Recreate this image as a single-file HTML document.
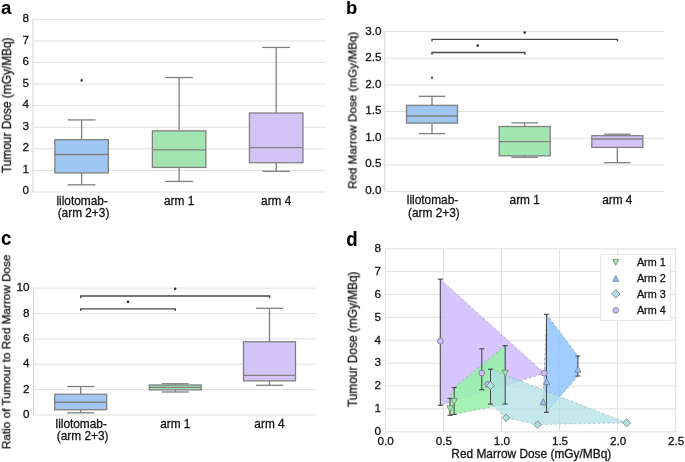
<!DOCTYPE html>
<html><head><meta charset="utf-8"><style>
html,body{margin:0;padding:0;background:#fff;}
text{stroke:#111;stroke-width:0.28px;paint-order:stroke;}
text[font-weight=bold]{stroke:#000;stroke-width:0.1px;}
svg{display:block;font-family:"Liberation Sans", sans-serif;-webkit-font-smoothing:antialiased;filter:blur(0.3px);}
text{will-change:transform;}
</style></head><body>
<svg width="685" height="462" viewBox="0 0 685 462">
<rect width="685" height="462" fill="#fff"/>
<line x1="33.00" y1="192.00" x2="325.50" y2="192.00" stroke="#e0e0e0" stroke-width="1" />
<text x="29.00" y="194.00" text-anchor="end" font-size="11.7" font-weight="normal" fill="#111" >0</text>
<line x1="33.00" y1="170.42" x2="325.50" y2="170.42" stroke="#e0e0e0" stroke-width="1" />
<text x="29.00" y="172.50" text-anchor="end" font-size="11.7" font-weight="normal" fill="#111" >1</text>
<line x1="33.00" y1="148.84" x2="325.50" y2="148.84" stroke="#e0e0e0" stroke-width="1" />
<text x="29.00" y="151.00" text-anchor="end" font-size="11.7" font-weight="normal" fill="#111" >2</text>
<line x1="33.00" y1="127.26" x2="325.50" y2="127.26" stroke="#e0e0e0" stroke-width="1" />
<text x="29.00" y="129.50" text-anchor="end" font-size="11.7" font-weight="normal" fill="#111" >3</text>
<line x1="33.00" y1="105.68" x2="325.50" y2="105.68" stroke="#e0e0e0" stroke-width="1" />
<text x="29.00" y="108.00" text-anchor="end" font-size="11.7" font-weight="normal" fill="#111" >4</text>
<line x1="33.00" y1="84.10" x2="325.50" y2="84.10" stroke="#e0e0e0" stroke-width="1" />
<text x="29.00" y="86.50" text-anchor="end" font-size="11.7" font-weight="normal" fill="#111" >5</text>
<line x1="33.00" y1="62.52" x2="325.50" y2="62.52" stroke="#e0e0e0" stroke-width="1" />
<text x="29.00" y="65.00" text-anchor="end" font-size="11.7" font-weight="normal" fill="#111" >6</text>
<line x1="33.00" y1="40.94" x2="325.50" y2="40.94" stroke="#e0e0e0" stroke-width="1" />
<text x="29.00" y="43.50" text-anchor="end" font-size="11.7" font-weight="normal" fill="#111" >7</text>
<line x1="33.00" y1="19.36" x2="325.50" y2="19.36" stroke="#e0e0e0" stroke-width="1" />
<text x="29.00" y="22.00" text-anchor="end" font-size="11.7" font-weight="normal" fill="#111" >8</text>
<line x1="33.00" y1="19.36" x2="33.00" y2="192.00" stroke="#d4d4d4" stroke-width="1" />
<line x1="81.60" y1="139.69" x2="81.60" y2="119.91" stroke="#808080" stroke-width="1.3" />
<line x1="81.60" y1="172.90" x2="81.60" y2="184.84" stroke="#808080" stroke-width="1.3" />
<line x1="67.69" y1="119.91" x2="95.51" y2="119.91" stroke="#808080" stroke-width="1.3" />
<line x1="67.69" y1="184.84" x2="95.51" y2="184.84" stroke="#808080" stroke-width="1.3" />
<rect x="54.85" y="139.69" width="53.50" height="33.22" fill="#a0c7f1" stroke="#808080" stroke-width="1.3"/>
<line x1="54.85" y1="154.52" x2="108.35" y2="154.52" stroke="#808080" stroke-width="1.3" />
<line x1="179.10" y1="130.87" x2="179.10" y2="77.55" stroke="#808080" stroke-width="1.3" />
<line x1="179.10" y1="167.42" x2="179.10" y2="181.40" stroke="#808080" stroke-width="1.3" />
<line x1="165.19" y1="77.55" x2="193.01" y2="77.55" stroke="#808080" stroke-width="1.3" />
<line x1="165.19" y1="181.40" x2="193.01" y2="181.40" stroke="#808080" stroke-width="1.3" />
<rect x="152.35" y="130.87" width="53.50" height="36.55" fill="#a2e5b1" stroke="#808080" stroke-width="1.3"/>
<line x1="152.35" y1="149.79" x2="205.85" y2="149.79" stroke="#808080" stroke-width="1.3" />
<line x1="276.20" y1="113.03" x2="276.20" y2="47.45" stroke="#808080" stroke-width="1.3" />
<line x1="276.20" y1="162.69" x2="276.20" y2="171.29" stroke="#808080" stroke-width="1.3" />
<line x1="262.29" y1="47.45" x2="290.11" y2="47.45" stroke="#808080" stroke-width="1.3" />
<line x1="262.29" y1="171.29" x2="290.11" y2="171.29" stroke="#808080" stroke-width="1.3" />
<rect x="249.45" y="113.03" width="53.50" height="49.66" fill="#d3c4f7" stroke="#808080" stroke-width="1.3"/>
<line x1="249.45" y1="147.64" x2="302.95" y2="147.64" stroke="#808080" stroke-width="1.3" />
<path d="M81.60,78.34 l1.5,2 l-1.5,2 l-1.5,-2 z" fill="#444"/>
<text x="82.10" y="204.80" text-anchor="middle" font-size="11.85" font-weight="normal" fill="#111" >lilotomab-</text>
<text x="83.50" y="216.60" text-anchor="middle" font-size="11.85" font-weight="normal" fill="#111" >(arm 2+3)</text>
<text x="179.10" y="204.80" text-anchor="middle" font-size="11.85" font-weight="normal" fill="#111" >arm 1</text>
<text x="276.20" y="204.80" text-anchor="middle" font-size="11.85" font-weight="normal" fill="#111" >arm 4</text>
<text transform="translate(10.90,105.30) rotate(-90)" text-anchor="middle" font-size="11.9" fill="#111">Tumour Dose (mGy/MBq)</text>
<text transform="translate(0.90,14.40) scale(0.98,1)" font-size="19" font-weight="bold" fill="#000">a</text>
<line x1="385.20" y1="191.60" x2="664.00" y2="191.60" stroke="#e0e0e0" stroke-width="1" />
<text x="381.60" y="193.90" text-anchor="end" font-size="11.7" font-weight="normal" fill="#111" >0.0</text>
<line x1="385.20" y1="164.91" x2="664.00" y2="164.91" stroke="#e0e0e0" stroke-width="1" />
<text x="381.60" y="167.34" text-anchor="end" font-size="11.7" font-weight="normal" fill="#111" >0.5</text>
<line x1="385.20" y1="138.23" x2="664.00" y2="138.23" stroke="#e0e0e0" stroke-width="1" />
<text x="381.60" y="140.77" text-anchor="end" font-size="11.7" font-weight="normal" fill="#111" >1.0</text>
<line x1="385.20" y1="111.55" x2="664.00" y2="111.55" stroke="#e0e0e0" stroke-width="1" />
<text x="381.60" y="114.20" text-anchor="end" font-size="11.7" font-weight="normal" fill="#111" >1.5</text>
<line x1="385.20" y1="84.86" x2="664.00" y2="84.86" stroke="#e0e0e0" stroke-width="1" />
<text x="381.60" y="87.64" text-anchor="end" font-size="11.7" font-weight="normal" fill="#111" >2.0</text>
<line x1="385.20" y1="58.18" x2="664.00" y2="58.18" stroke="#e0e0e0" stroke-width="1" />
<text x="381.60" y="61.07" text-anchor="end" font-size="11.7" font-weight="normal" fill="#111" >2.5</text>
<line x1="385.20" y1="31.49" x2="664.00" y2="31.49" stroke="#e0e0e0" stroke-width="1" />
<text x="381.60" y="34.51" text-anchor="end" font-size="11.7" font-weight="normal" fill="#111" >3.0</text>
<line x1="384.80" y1="31.49" x2="384.80" y2="191.60" stroke="#d4d4d4" stroke-width="1" />
<line x1="432.00" y1="105.36" x2="432.00" y2="96.33" stroke="#808080" stroke-width="1.3" />
<line x1="432.00" y1="123.11" x2="432.00" y2="133.63" stroke="#808080" stroke-width="1.3" />
<line x1="418.74" y1="96.33" x2="445.26" y2="96.33" stroke="#808080" stroke-width="1.3" />
<line x1="418.74" y1="133.63" x2="445.26" y2="133.63" stroke="#808080" stroke-width="1.3" />
<rect x="406.50" y="105.36" width="51.00" height="17.75" fill="#a0c7f1" stroke="#808080" stroke-width="1.3"/>
<line x1="406.50" y1="115.99" x2="457.50" y2="115.99" stroke="#808080" stroke-width="1.3" />
<line x1="524.70" y1="126.51" x2="524.70" y2="122.89" stroke="#808080" stroke-width="1.3" />
<line x1="524.70" y1="155.83" x2="524.70" y2="157.32" stroke="#808080" stroke-width="1.3" />
<line x1="511.44" y1="122.89" x2="537.96" y2="122.89" stroke="#808080" stroke-width="1.3" />
<line x1="511.44" y1="157.32" x2="537.96" y2="157.32" stroke="#808080" stroke-width="1.3" />
<rect x="499.20" y="126.51" width="51.00" height="29.33" fill="#a2e5b1" stroke="#808080" stroke-width="1.3"/>
<line x1="499.20" y1="141.70" x2="550.20" y2="141.70" stroke="#808080" stroke-width="1.3" />
<line x1="617.30" y1="135.70" x2="617.30" y2="134.21" stroke="#808080" stroke-width="1.3" />
<line x1="617.30" y1="147.39" x2="617.30" y2="162.69" stroke="#808080" stroke-width="1.3" />
<line x1="604.04" y1="134.21" x2="630.56" y2="134.21" stroke="#808080" stroke-width="1.3" />
<line x1="604.04" y1="162.69" x2="630.56" y2="162.69" stroke="#808080" stroke-width="1.3" />
<rect x="591.80" y="135.70" width="51.00" height="11.69" fill="#d3c4f7" stroke="#808080" stroke-width="1.3"/>
<line x1="591.80" y1="138.99" x2="642.80" y2="138.99" stroke="#808080" stroke-width="1.3" />
<path d="M432.00,76.10 l1.1,1.7 l-1.1,1.7 l-1.1,-1.7 z" fill="#333"/>
<path d="M432.00,41.60 L432.00,39.40 L617.50,39.40 L617.50,41.60" fill="none" stroke="#484848" stroke-width="1.4"/>
<path d="M432.00,54.70 L432.00,52.50 L525.00,52.50 L525.00,54.70" fill="none" stroke="#484848" stroke-width="1.4"/>
<circle cx="524.70" cy="32.60" r="1.25" fill="#222"/>
<circle cx="477.70" cy="45.50" r="1.25" fill="#222"/>
<text x="432.50" y="204.20" text-anchor="middle" font-size="11.85" font-weight="normal" fill="#111" >lilotomab-</text>
<text x="433.90" y="216.80" text-anchor="middle" font-size="11.85" font-weight="normal" fill="#111" >(arm 2+3)</text>
<text x="524.70" y="204.20" text-anchor="middle" font-size="11.85" font-weight="normal" fill="#111" >arm 1</text>
<text x="617.30" y="204.20" text-anchor="middle" font-size="11.85" font-weight="normal" fill="#111" >arm 4</text>
<text transform="translate(356.40,110.40) rotate(-90)" text-anchor="middle" font-size="11.7" fill="#111">Red Marrow Dose (mGy/MBq)</text>
<text transform="translate(345.90,14.30) scale(0.97,1)" font-size="19" font-weight="bold" fill="#000">b</text>
<line x1="33.50" y1="415.00" x2="316.50" y2="415.00" stroke="#e0e0e0" stroke-width="1" />
<text x="29.40" y="417.90" text-anchor="end" font-size="11.7" font-weight="normal" fill="#111" >0</text>
<line x1="33.50" y1="389.62" x2="316.50" y2="389.62" stroke="#e0e0e0" stroke-width="1" />
<text x="29.40" y="392.58" text-anchor="end" font-size="11.7" font-weight="normal" fill="#111" >2</text>
<line x1="33.50" y1="364.24" x2="316.50" y2="364.24" stroke="#e0e0e0" stroke-width="1" />
<text x="29.40" y="367.26" text-anchor="end" font-size="11.7" font-weight="normal" fill="#111" >4</text>
<line x1="33.50" y1="338.86" x2="316.50" y2="338.86" stroke="#e0e0e0" stroke-width="1" />
<text x="29.40" y="341.94" text-anchor="end" font-size="11.7" font-weight="normal" fill="#111" >6</text>
<line x1="33.50" y1="313.48" x2="316.50" y2="313.48" stroke="#e0e0e0" stroke-width="1" />
<text x="29.40" y="316.62" text-anchor="end" font-size="11.7" font-weight="normal" fill="#111" >8</text>
<line x1="33.50" y1="288.10" x2="316.50" y2="288.10" stroke="#e0e0e0" stroke-width="1" />
<text x="29.40" y="291.30" text-anchor="end" font-size="11.7" font-weight="normal" fill="#111" >10</text>
<line x1="33.50" y1="288.10" x2="33.50" y2="415.00" stroke="#d4d4d4" stroke-width="1" />
<line x1="80.70" y1="394.26" x2="80.70" y2="386.54" stroke="#808080" stroke-width="1.3" />
<line x1="80.70" y1="409.71" x2="80.70" y2="412.87" stroke="#808080" stroke-width="1.3" />
<line x1="67.18" y1="386.54" x2="94.22" y2="386.54" stroke="#808080" stroke-width="1.3" />
<line x1="67.18" y1="412.87" x2="94.22" y2="412.87" stroke="#808080" stroke-width="1.3" />
<rect x="54.70" y="394.26" width="52.00" height="15.45" fill="#a0c7f1" stroke="#808080" stroke-width="1.3"/>
<line x1="54.70" y1="402.24" x2="106.70" y2="402.24" stroke="#808080" stroke-width="1.3" />
<line x1="175.30" y1="385.02" x2="175.30" y2="383.76" stroke="#808080" stroke-width="1.3" />
<line x1="175.30" y1="389.83" x2="175.30" y2="391.99" stroke="#808080" stroke-width="1.3" />
<line x1="161.78" y1="383.76" x2="188.82" y2="383.76" stroke="#808080" stroke-width="1.3" />
<line x1="161.78" y1="391.99" x2="188.82" y2="391.99" stroke="#808080" stroke-width="1.3" />
<rect x="149.30" y="385.02" width="52.00" height="4.81" fill="#a2e5b1" stroke="#808080" stroke-width="1.3"/>
<line x1="149.30" y1="387.30" x2="201.30" y2="387.30" stroke="#808080" stroke-width="1.3" />
<line x1="269.50" y1="341.73" x2="269.50" y2="308.30" stroke="#808080" stroke-width="1.3" />
<line x1="269.50" y1="380.84" x2="269.50" y2="385.28" stroke="#808080" stroke-width="1.3" />
<line x1="255.98" y1="308.30" x2="283.02" y2="308.30" stroke="#808080" stroke-width="1.3" />
<line x1="255.98" y1="385.28" x2="283.02" y2="385.28" stroke="#808080" stroke-width="1.3" />
<rect x="243.50" y="341.73" width="52.00" height="39.12" fill="#d3c4f7" stroke="#808080" stroke-width="1.3"/>
<line x1="243.50" y1="375.40" x2="295.50" y2="375.40" stroke="#808080" stroke-width="1.3" />
<path d="M80.80,298.20 L80.80,296.00 L269.60,296.00 L269.60,298.20" fill="none" stroke="#484848" stroke-width="1.4"/>
<path d="M80.80,311.10 L80.80,308.90 L175.20,308.90 L175.20,311.10" fill="none" stroke="#484848" stroke-width="1.4"/>
<circle cx="175.20" cy="288.70" r="1.25" fill="#222"/>
<circle cx="128.00" cy="301.80" r="1.25" fill="#222"/>
<text x="81.20" y="427.70" text-anchor="middle" font-size="11.85" font-weight="normal" fill="#111" >lilotomab-</text>
<text x="82.60" y="440.10" text-anchor="middle" font-size="11.85" font-weight="normal" fill="#111" >(arm 2+3)</text>
<text x="175.30" y="427.70" text-anchor="middle" font-size="11.85" font-weight="normal" fill="#111" >arm 1</text>
<text x="269.50" y="427.70" text-anchor="middle" font-size="11.85" font-weight="normal" fill="#111" >arm 4</text>
<text transform="translate(10.20,351.80) rotate(-90)" text-anchor="middle" font-size="11.75" fill="#111">Ratio of Tumour to Red Marrow Dose</text>
<text transform="translate(1.00,245.40) scale(0.93,1)" font-size="20" font-weight="bold" fill="#000">c</text>
<rect x="385.30" y="248.76" width="290.40" height="183.04" fill="#fff" stroke="#e0e0e0" stroke-width="1"/>
<line x1="443.38" y1="248.76" x2="443.38" y2="431.80" stroke="#e0e0e0" stroke-width="1" />
<line x1="501.46" y1="248.76" x2="501.46" y2="431.80" stroke="#e0e0e0" stroke-width="1" />
<line x1="559.54" y1="248.76" x2="559.54" y2="431.80" stroke="#e0e0e0" stroke-width="1" />
<line x1="617.62" y1="248.76" x2="617.62" y2="431.80" stroke="#e0e0e0" stroke-width="1" />
<line x1="385.30" y1="408.92" x2="675.70" y2="408.92" stroke="#e0e0e0" stroke-width="1" />
<line x1="385.30" y1="386.04" x2="675.70" y2="386.04" stroke="#e0e0e0" stroke-width="1" />
<line x1="385.30" y1="363.16" x2="675.70" y2="363.16" stroke="#e0e0e0" stroke-width="1" />
<line x1="385.30" y1="340.28" x2="675.70" y2="340.28" stroke="#e0e0e0" stroke-width="1" />
<line x1="385.30" y1="317.40" x2="675.70" y2="317.40" stroke="#e0e0e0" stroke-width="1" />
<line x1="385.30" y1="294.52" x2="675.70" y2="294.52" stroke="#e0e0e0" stroke-width="1" />
<line x1="385.30" y1="271.64" x2="675.70" y2="271.64" stroke="#e0e0e0" stroke-width="1" />
<text x="381.00" y="434.70" text-anchor="end" font-size="11.7" font-weight="normal" fill="#111" >0</text>
<text x="381.00" y="411.90" text-anchor="end" font-size="11.7" font-weight="normal" fill="#111" >1</text>
<text x="381.00" y="389.10" text-anchor="end" font-size="11.7" font-weight="normal" fill="#111" >2</text>
<text x="381.00" y="366.30" text-anchor="end" font-size="11.7" font-weight="normal" fill="#111" >3</text>
<text x="381.00" y="343.50" text-anchor="end" font-size="11.7" font-weight="normal" fill="#111" >4</text>
<text x="381.00" y="320.70" text-anchor="end" font-size="11.7" font-weight="normal" fill="#111" >5</text>
<text x="381.00" y="297.90" text-anchor="end" font-size="11.7" font-weight="normal" fill="#111" >6</text>
<text x="381.00" y="275.10" text-anchor="end" font-size="11.7" font-weight="normal" fill="#111" >7</text>
<text x="381.00" y="252.30" text-anchor="end" font-size="11.7" font-weight="normal" fill="#111" >8</text>
<text x="385.70" y="444.70" text-anchor="middle" font-size="11.7" font-weight="normal" fill="#111" >0.0</text>
<text x="443.80" y="444.70" text-anchor="middle" font-size="11.7" font-weight="normal" fill="#111" >0.5</text>
<text x="501.90" y="444.70" text-anchor="middle" font-size="11.7" font-weight="normal" fill="#111" >1.0</text>
<text x="560.00" y="444.70" text-anchor="middle" font-size="11.7" font-weight="normal" fill="#111" >1.5</text>
<text x="618.10" y="444.70" text-anchor="middle" font-size="11.7" font-weight="normal" fill="#111" >2.0</text>
<text x="676.20" y="444.70" text-anchor="middle" font-size="11.7" font-weight="normal" fill="#111" >2.5</text>
<text x="531.30" y="458.40" text-anchor="middle" font-size="11.9" font-weight="normal" fill="#111" >Red Marrow Dose (mGy/MBq)</text>
<text transform="translate(356.80,339.30) rotate(-90)" text-anchor="middle" font-size="11.9" fill="#111">Tumour Dose (mGy/MBq)</text>
<text transform="translate(346.20,245.50) scale(0.93,1)" font-size="20" font-weight="bold" fill="#000">d</text>
<polygon points="440.30,279.20 544.30,373.30 440.30,405.30" fill="#d0bbff" fill-opacity="0.85" stroke="none"/>
<polygon points="440.30,279.20 544.30,373.30 440.30,405.30" fill="none" stroke="#7a6e96" stroke-opacity="0.55" stroke-width="0.8" stroke-dasharray="2.6,2.2"/>
<polygon points="450.00,415.30 505.20,404.10 505.20,345.60 454.20,387.60 450.00,398.40" fill="#97f0aa" fill-opacity="0.88" stroke="none"/>
<polygon points="450.00,415.30 505.20,404.10 505.20,345.60 454.20,387.60 450.00,398.40" fill="none" stroke="#5f8f6a" stroke-opacity="0.55" stroke-width="0.8" stroke-dasharray="2.6,2.2"/>
<polygon points="546.50,314.30 577.90,356.00 577.90,376.00 546.50,412.30 543.00,402.20" fill="#92c6ff" fill-opacity="0.85" stroke="none"/>
<polygon points="546.50,314.30 577.90,356.00 577.90,376.00 546.50,412.30 543.00,402.20" fill="none" stroke="#5a7a9c" stroke-opacity="0.55" stroke-width="0.8" stroke-dasharray="2.6,2.2"/>
<polygon points="490.50,369.20 626.70,422.80 537.60,424.60 506.00,417.80 490.50,404.10" fill="#b0e0e6" fill-opacity="0.75" stroke="none"/>
<polygon points="490.50,369.20 626.70,422.80 537.60,424.60 506.00,417.80 490.50,404.10" fill="none" stroke="#7a9ea2" stroke-opacity="0.55" stroke-width="0.8" stroke-dasharray="2.6,2.2"/>
<line x1="440.30" y1="279.20" x2="440.30" y2="405.30" stroke="#474747" stroke-width="1.05" />
<line x1="437.80" y1="279.20" x2="442.80" y2="279.20" stroke="#474747" stroke-width="1.1" />
<line x1="437.80" y1="405.30" x2="442.80" y2="405.30" stroke="#474747" stroke-width="1.1" />
<line x1="481.80" y1="348.80" x2="481.80" y2="389.70" stroke="#474747" stroke-width="1.05" />
<line x1="479.30" y1="348.80" x2="484.30" y2="348.80" stroke="#474747" stroke-width="1.1" />
<line x1="479.30" y1="389.70" x2="484.30" y2="389.70" stroke="#474747" stroke-width="1.1" />
<line x1="450.00" y1="398.40" x2="450.00" y2="415.30" stroke="#474747" stroke-width="1.05" />
<line x1="447.50" y1="398.40" x2="452.50" y2="398.40" stroke="#474747" stroke-width="1.1" />
<line x1="447.50" y1="415.30" x2="452.50" y2="415.30" stroke="#474747" stroke-width="1.1" />
<line x1="454.20" y1="387.60" x2="454.20" y2="414.50" stroke="#474747" stroke-width="1.05" />
<line x1="451.70" y1="387.60" x2="456.70" y2="387.60" stroke="#474747" stroke-width="1.1" />
<line x1="451.70" y1="414.50" x2="456.70" y2="414.50" stroke="#474747" stroke-width="1.1" />
<line x1="505.20" y1="345.60" x2="505.20" y2="404.10" stroke="#474747" stroke-width="1.05" />
<line x1="502.70" y1="345.60" x2="507.70" y2="345.60" stroke="#474747" stroke-width="1.1" />
<line x1="502.70" y1="404.10" x2="507.70" y2="404.10" stroke="#474747" stroke-width="1.1" />
<line x1="546.50" y1="314.30" x2="546.50" y2="412.30" stroke="#474747" stroke-width="1.05" />
<line x1="544.00" y1="314.30" x2="549.00" y2="314.30" stroke="#474747" stroke-width="1.1" />
<line x1="544.00" y1="412.30" x2="549.00" y2="412.30" stroke="#474747" stroke-width="1.1" />
<line x1="577.90" y1="356.00" x2="577.90" y2="376.00" stroke="#474747" stroke-width="1.05" />
<line x1="575.40" y1="356.00" x2="580.40" y2="356.00" stroke="#474747" stroke-width="1.1" />
<line x1="575.40" y1="376.00" x2="580.40" y2="376.00" stroke="#474747" stroke-width="1.1" />
<line x1="490.50" y1="369.20" x2="490.50" y2="404.10" stroke="#474747" stroke-width="1.05" />
<line x1="488.00" y1="369.20" x2="493.00" y2="369.20" stroke="#474747" stroke-width="1.1" />
<line x1="488.00" y1="404.10" x2="493.00" y2="404.10" stroke="#474747" stroke-width="1.1" />
<circle cx="440.30" cy="341.20" r="2.9" fill="#d0bbff" stroke="#777" stroke-width="0.8"/>
<circle cx="481.80" cy="372.90" r="2.9" fill="#d0bbff" stroke="#777" stroke-width="0.8"/>
<circle cx="487.90" cy="384.40" r="2.9" fill="#d0bbff" stroke="#777" stroke-width="0.8"/>
<circle cx="544.20" cy="373.20" r="2.9" fill="#d0bbff" stroke="#777" stroke-width="0.8"/>
<path d="M446.90,405.80 L453.10,405.80 L450.00,412.00 Z" fill="#97f0aa" stroke="#777" stroke-width="0.8"/>
<path d="M451.00,398.50 L457.20,398.50 L454.10,404.70 Z" fill="#97f0aa" stroke="#777" stroke-width="0.8"/>
<path d="M502.10,370.20 L508.30,370.20 L505.20,376.40 Z" fill="#97f0aa" stroke="#777" stroke-width="0.8"/>
<path d="M543.50,384.70 L549.70,384.70 L546.60,378.50 Z" fill="#92c6ff" stroke="#777" stroke-width="0.8"/>
<path d="M540.10,404.90 L546.30,404.90 L543.20,398.70 Z" fill="#92c6ff" stroke="#777" stroke-width="0.8"/>
<path d="M574.80,372.20 L581.00,372.20 L577.90,366.00 Z" fill="#92c6ff" stroke="#777" stroke-width="0.8"/>
<path d="M490.50,381.50 L494.50,385.50 L490.50,389.50 L486.50,385.50 Z" fill="#b0e0e6" stroke="#777" stroke-width="0.8"/>
<path d="M506.00,414.10 L509.70,417.80 L506.00,421.50 L502.30,417.80 Z" fill="#b0e0e6" stroke="#777" stroke-width="0.8"/>
<path d="M537.60,420.90 L541.30,424.60 L537.60,428.30 L533.90,424.60 Z" fill="#b0e0e6" stroke="#777" stroke-width="0.8"/>
<path d="M626.70,418.80 L630.70,422.80 L626.70,426.80 L622.70,422.80 Z" fill="#b0e0e6" stroke="#777" stroke-width="0.8"/>
<rect x="600.7" y="254.5" width="69.6" height="66.2" fill="#fff" stroke="#e0e0e0" stroke-width="0.8"/>
<path d="M612.90,259.40 L618.70,259.40 L615.80,265.20 Z" fill="#97f0aa" stroke="#777" stroke-width="0.8"/>
<path d="M612.90,281.30 L618.70,281.30 L615.80,275.50 Z" fill="#92c6ff" stroke="#777" stroke-width="0.8"/>
<path d="M615.80,289.80 L620.00,294.00 L615.80,298.20 L611.60,294.00 Z" fill="#b0e0e6" stroke="#777" stroke-width="0.8"/>
<circle cx="615.80" cy="310.40" r="2.8" fill="#d0bbff" stroke="#777" stroke-width="0.8"/>
<text x="636.90" y="266.00" text-anchor="start" font-size="10.8" font-weight="normal" fill="#111" >Arm 1</text>
<text x="636.90" y="282.00" text-anchor="start" font-size="10.8" font-weight="normal" fill="#111" >Arm 2</text>
<text x="636.90" y="298.00" text-anchor="start" font-size="10.8" font-weight="normal" fill="#111" >Arm 3</text>
<text x="636.90" y="314.00" text-anchor="start" font-size="10.8" font-weight="normal" fill="#111" >Arm 4</text>
</svg>
</body></html>
